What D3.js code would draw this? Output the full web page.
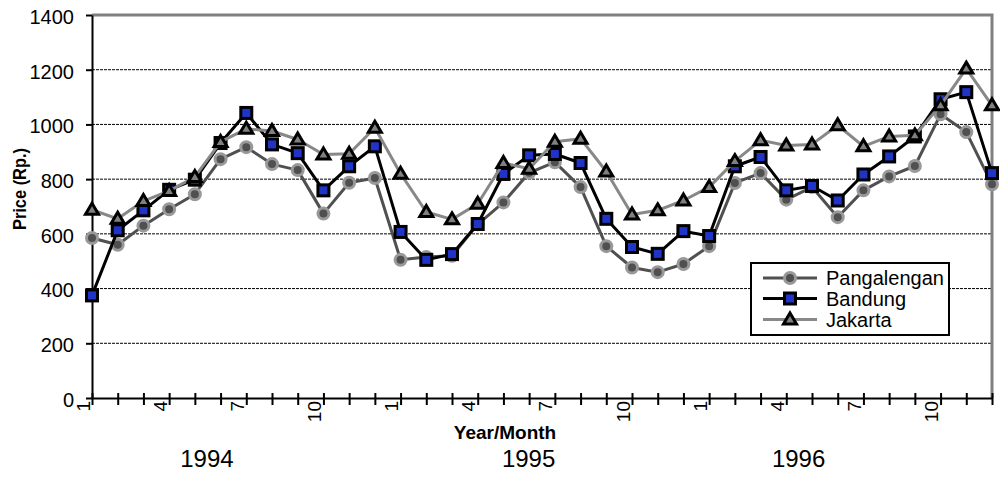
<!DOCTYPE html>
<html><head><meta charset="utf-8">
<script src="https://cdn.jsdelivr.net/npm/d3@7"></script>
<style>
html,body{margin:0;padding:0;background:#fff;}
text{font-family:"Liberation Sans",Arial,sans-serif;fill:#000;}
</style></head>
<body><svg id="c" width="1000" height="480"></svg>
<script>
// ---- data ----
const months = [1,2,3,4,5,6,7,8,9,10,11,12,1,2,3,4,5,6,7,8,9,10,11,12,1,2,3,4,5,6,7,8,9,10,11,12];
const years = ["1994","1995","1996"];
const yTicks = [0,200,400,600,800,1000,1200,1400];
const seriesNames = ["Pangalengan","Bandung","Jakarta"];
const pangalengan = [585,560,630,690,745,873,917,855,833,674,787,804,505,515,520,635,715,823,862,771,555,477,460,490,555,786,822,725,771,661,759,810,848,1037,972,781];
const bandung = [375,613,686,761,798,932,1042,927,895,759,847,920,607,505,526,636,819,887,892,859,655,552,527,610,592,847,881,759,775,722,817,883,956,1092,1118,822];
const jakarta = [688,655,720,757,808,936,984,976,945,890,893,988,820,680,653,710,859,838,937,948,828,671,686,722,771,866,942,923,927,997,920,956,960,1070,1204,1070];

// ---- layout ----
const L = 92, R = 992, T = 15, B = 398;
const yearPos = [4.47, 16.98, 27.48];
const svg = d3.select("#c");
const x = d3.scalePoint().domain(d3.range(months.length)).range([L, R]);
const y = d3.scaleLinear().domain([0, 1400]).range([B, T]);

// grid
svg.append("g").selectAll("line").data(yTicks.filter(v => v > 0 && v < 1400)).join("line")
  .attr("x1", L).attr("x2", R).attr("y1", d => y(d)).attr("y2", d => y(d))
  .attr("stroke", "#000").attr("stroke-width", 1).attr("stroke-dasharray", "3,1");

// frame top/right gray
svg.append("path").attr("d", `M${L},${T}H${R}V${B}`).attr("fill", "none")
  .attr("stroke", "#808080").attr("stroke-width", 3);

// y axis
const ya = svg.append("g").attr("transform", `translate(${L},0)`)
  .call(d3.axisLeft(y).tickValues(yTicks).tickFormat(d3.format("d"))
    .tickSizeInner(6).tickSizeOuter(0).tickPadding(12));
ya.select(".domain").attr("stroke", "#000").attr("stroke-width", 2);
ya.selectAll(".tick line").attr("stroke", "#000").attr("stroke-width", 2);
ya.selectAll(".tick text").attr("font-size", 20).attr("dy", "0.42em")
  .style("font-family", '"Liberation Sans",Arial,sans-serif');

// x axis
const xa = svg.append("g").attr("transform", `translate(0,${B})`)
  .call(d3.axisBottom(x).tickSizeInner(7).tickSizeOuter(0)
    .tickFormat(i => ((months[i] - 1) % 3 === 0 ? String(months[i]) : "")));
xa.select(".domain").attr("stroke", "#000").attr("stroke-width", 2);
xa.selectAll(".tick line").attr("stroke", "#000").attr("stroke-width", 2).attr("y1", -5);
xa.selectAll(".tick text").attr("font-size", 19)
  .style("font-family", '"Liberation Sans",Arial,sans-serif')
  .attr("transform", "rotate(-90)").attr("text-anchor", "end")
  .attr("x", -3).attr("y", -3).attr("dy", 0);

// axis titles
svg.append("text").attr("x", 505).attr("y", 439).attr("text-anchor", "middle")
  .attr("font-size", 19).attr("font-weight", "bold").text("Year/Month");
svg.append("text").attr("transform", "translate(26,189) rotate(-90)").attr("text-anchor", "middle")
  .attr("font-size", 19).attr("font-weight", "bold")
  .attr("textLength", 82).attr("lengthAdjust", "spacingAndGlyphs").text("Price (Rp.)");
svg.append("g").selectAll("text").data(years).join("text")
  .attr("x", (d, i) => L + yearPos[i] * x.step()).attr("y", 467).attr("text-anchor", "middle")
  .attr("font-size", 24).text(d => d);

// series
const styles = [
  {data: pangalengan, line: "#505050", marker: "circle"},
  {data: bandung, line: "#000000", marker: "square"},
  {data: jakarta, line: "#888888", marker: "triangle"}
];
function drawMarker(g, type) {
  if (type === "circle") {
    g.append("circle").attr("r", 5.5).attr("fill", "#505050").attr("stroke", "#999").attr("stroke-width", 3);
  } else if (type === "square") {
    g.append("rect").attr("x", -5.5).attr("y", -5.5).attr("width", 11).attr("height", 11)
      .attr("fill", "#2035c8").attr("stroke", "#000").attr("stroke-width", 3);
  } else {
    g.append("path").attr("d", "M0,-6.5L6.5,4.5L-6.5,4.5Z")
      .attr("fill", "#808080").attr("stroke", "#000").attr("stroke-width", 3).attr("stroke-linejoin", "miter");
  }
}
const line = d3.line().x((d, i) => x(i)).y(d => y(d));
styles.forEach(s => {
  const g = svg.append("g");
  g.append("path").attr("d", line(s.data)).attr("fill", "none")
    .attr("stroke", s.line).attr("stroke-width", 3).attr("stroke-linejoin", "round");
  s.data.forEach((v, i) => {
    const m = g.append("g").attr("transform", `translate(${x(i)},${y(v)})`);
    drawMarker(m, s.marker);
  });
});

// legend
const lg = svg.append("g");
lg.append("rect").attr("x", 751).attr("y", 263).attr("width", 198).attr("height", 72)
  .attr("fill", "#fff").attr("stroke", "#000").attr("stroke-width", 2);
const rowY = [278, 298.5, 319.5];
seriesNames.forEach((n, i) => {
  lg.append("line").attr("x1", 763).attr("x2", 817).attr("y1", rowY[i]).attr("y2", rowY[i])
    .attr("stroke", styles[i].line).attr("stroke-width", 3);
  const m = lg.append("g").attr("transform", `translate(790,${rowY[i]})`);
  drawMarker(m, styles[i].marker);
  lg.append("text").attr("x", 826).attr("y", rowY[i] + 7).attr("font-size", 20).text(n);
});
</script></body></html>
